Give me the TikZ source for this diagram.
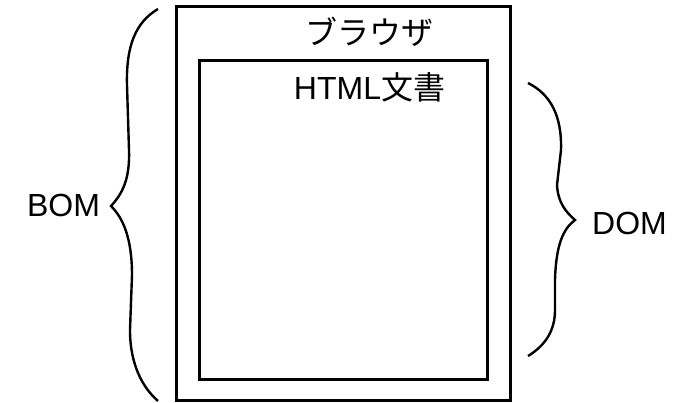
\documentclass[tikz,border=0pt]{standalone}
\usepackage{fontspec}
\setmainfont{Liberation Sans}
\newfontfamily\cjk{Noto Sans CJK JP}
\begin{document}
\begin{tikzpicture}[x=1pt,y=-1pt,
  frame/.style={draw, line width=3pt, inner sep=0pt},
  brace/.style={draw, line width=2.4pt, line join=miter},
  lbl/.style={anchor=base, inner sep=0pt, font=\fontsize{32}{32}\selectfont}]
\useasboundingbox (0,0) rectangle (688,403);
\node[frame, minimum width=334pt, minimum height=393pt] (browser) at (343,203.5) {};
\node[frame, minimum width=288pt, minimum height=318pt] (doc) at (343,220) {};
\node[lbl] (browsertxt) at (369.5,45) {\cjk ブラウザ};
\node[lbl] (doctxt) at (369.5,100) {HTML{\cjk 文書}};
\node[lbl] (bom) at (63.5,217) {BOM};
\node[lbl] (dom) at (629.5,235) {DOM};
% left brace
\path[brace] (158,9) .. controls (136,22) and (126,45) .. (127,85)
  -- (129,150) .. controls (130,180) and (122,194) .. (111,206)
  .. controls (123,218) and (132,238) .. (132,275)
  -- (130,330) .. controls (130,365) and (143,388) .. (158,401);
% right brace
\path[brace] (528,83) .. controls (550,94) and (562,115) .. (561,150)
  -- (557,185) .. controls (558,203) and (566,212) .. (575,220)
  .. controls (563,229) and (556,245) .. (555,280)
  -- (555,310) .. controls (555,330) and (546,345) .. (528,356);
\end{tikzpicture}
\end{document}
